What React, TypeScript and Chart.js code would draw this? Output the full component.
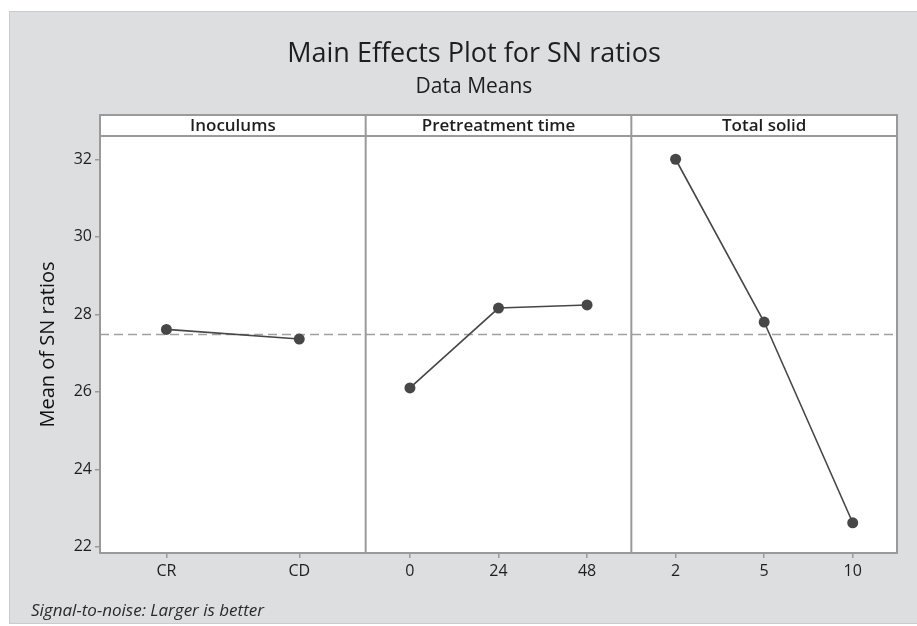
import { useEffect, useRef } from "react";
import { Chart, registerables } from "chart.js";

Chart.register(...registerables);

// ---- data ----
const PANEL_TITLES = ["Inoculums", "Pretreatment time", "Total solid"];
const INOCULUM_LEVELS = ["CR", "CD"];
const INOCULUM_SN = [27.61, 27.36];
const PRETREAT_LEVELS = ["0", "24", "48"];
const PRETREAT_SN = [26.1, 28.16, 28.24];
const SOLID_LEVELS = ["2", "5", "10"];
const SOLID_SN = [32.0, 27.8, 22.62];
const OVERALL_MEAN = [27.48];
const Y_TICKS = [22, 24, 26, 28, 30, 32];
const Y_RANGE = [21.84, 32.6];

const TITLE = "Main Effects Plot for SN ratios";
const SUBTITLE = "Data Means";
const Y_TITLE = "Mean of SN ratios";
const FOOTER = "Signal-to-noise: Larger is better";

// ---- style ----
const FONT = "'Open Sans', 'Noto Sans', sans-serif";
const TEXT = "#1e1e1e";
const FRAME = "#9a9a9a";
const MARK = "#474747";
const BG = "#dddee0";
const HEADER_H = 21;

const xScale = (labels: string[]) => ({
  type: "category" as const,
  labels,
  position: "bottom" as const,
  stack: "panels",
  stackWeight: 1,
  offset: true,
  grid: {
    display: true,
    drawOnChartArea: false,
    drawTicks: true,
    tickLength: 5,
    color: FRAME,
    lineWidth: 1.5,
  },
  border: { display: false },
  ticks: {
    color: TEXT,
    font: { family: FONT, size: 16 },
    padding: 4,
    maxRotation: 0,
    autoSkip: false,
  },
  afterFit: (s: any) => {
    s.height = 73;
  },
});

const decorPlugin = {
  id: "decor",
  beforeDraw(chart: any) {
    const { ctx, chartArea } = chart;
    ctx.save();
    ctx.fillStyle = BG;
    ctx.fillRect(9, 11, 917 - 9, 623 - 11);
    ctx.strokeStyle = "#cbcbcd";
    ctx.lineWidth = 1;
    ctx.strokeRect(9.5, 11.5, 917 - 9, 623 - 11);
    ctx.fillStyle = "#ffffff";
    ctx.fillRect(
      chartArea.left,
      chartArea.top - HEADER_H,
      chartArea.right - chartArea.left,
      chartArea.bottom - chartArea.top + HEADER_H
    );
    // titles
    ctx.fillStyle = TEXT;
    ctx.textAlign = "center";
    ctx.textBaseline = "middle";
    ctx.font = `normal 27px ${FONT}`;
    ctx.fillText(TITLE, 474, 54);
    ctx.font = `normal 21px ${FONT}`;
    ctx.fillText(SUBTITLE, 474, 87);
    ctx.restore();
  },
  beforeDatasetsDraw(chart: any) {
    const { ctx, chartArea, scales } = chart;
    const y = scales.y.getPixelForValue(OVERALL_MEAN[0]);
    ctx.save();
    ctx.strokeStyle = "#a0a0a0";
    ctx.lineWidth = 1.5;
    ctx.setLineDash([9, 5]);
    ctx.beginPath();
    ctx.moveTo(chartArea.left, y);
    ctx.lineTo(chartArea.right, y);
    ctx.stroke();
    ctx.restore();
  },
  afterDraw(chart: any) {
    const { ctx, chartArea, scales } = chart;
    const top = chartArea.top - HEADER_H;
    const axes = [scales.x0, scales.x1, scales.x2];
    ctx.save();
    ctx.strokeStyle = FRAME;
    ctx.lineWidth = 2;
    ctx.strokeRect(
      chartArea.left,
      top,
      chartArea.right - chartArea.left,
      chartArea.bottom - top
    );
    ctx.beginPath();
    ctx.moveTo(chartArea.left, chartArea.top);
    ctx.lineTo(chartArea.right, chartArea.top);
    for (let i = 1; i < axes.length; i++) {
      ctx.moveTo(axes[i].left, top);
      ctx.lineTo(axes[i].left, chartArea.bottom);
    }
    ctx.stroke();
    ctx.fillStyle = TEXT;
    ctx.font = `600 17px ${FONT}`;
    ctx.textAlign = "center";
    ctx.textBaseline = "middle";
    axes.forEach((a, i) => {
      ctx.fillText(PANEL_TITLES[i], (a.left + a.right) / 2, top + HEADER_H / 2 + 0.5);
    });
    ctx.font = `italic 17px ${FONT}`;
    ctx.textAlign = "left";
    ctx.fillStyle = "#2a2a2a";
    ctx.fillText(FOOTER, 31, 611);
    ctx.restore();
  },
};

const lineStyle = {
  borderColor: MARK,
  borderWidth: 1.6,
  pointRadius: 5.5,
  pointBackgroundColor: MARK,
  pointBorderWidth: 0,
  tension: 0,
  yAxisID: "y",
};

export default function App() {
  const ref = useRef<HTMLCanvasElement>(null);
  useEffect(() => {
    const chart = new Chart(ref.current as HTMLCanvasElement, {
      type: "line",
      data: {
        datasets: [
          { ...lineStyle, data: INOCULUM_SN, xAxisID: "x0" },
          { ...lineStyle, data: PRETREAT_SN, xAxisID: "x1" },
          { ...lineStyle, data: SOLID_SN, xAxisID: "x2" },
        ],
      },
      options: {
        responsive: false,
        animation: false,
        devicePixelRatio: 1,
        layout: { padding: { top: 136, right: 20, bottom: 0, left: 0 } },
        plugins: {
          legend: { display: false },
          tooltip: { enabled: false },
          title: { display: false },
          subtitle: { display: false },
        },
        scales: {
          x0: xScale(INOCULUM_LEVELS),
          x1: xScale(PRETREAT_LEVELS),
          x2: xScale(SOLID_LEVELS),
          y: {
            type: "linear",
            position: "left",
            min: Y_RANGE[0],
            max: Y_RANGE[1],
            afterBuildTicks: (s: any) => {
              s.ticks = Y_TICKS.map((v) => ({ value: v }));
            },
            afterFit: (s: any) => {
              s.width = 100;
            },
            grid: {
              drawOnChartArea: false,
              drawTicks: true,
              tickLength: 5,
              color: FRAME,
              lineWidth: 1.5,
            },
            border: { display: false },
            ticks: {
              color: TEXT,
              font: { family: FONT, size: 16 },
              padding: 3,
            },
            title: {
              display: true,
              text: Y_TITLE,
              color: "#111111",
              font: { family: FONT, size: 20 },
              padding: { top: 36, bottom: 0 },
            },
          },
        },
      } as any,
      plugins: [decorPlugin],
    });
    return () => chart.destroy();
  }, []);
  return (
    <div style={{ position: "fixed", left: 0, top: 0, width: 917, height: 626 }}>
      <canvas
        ref={ref}
        width={917}
        height={626}
        style={{ display: "block", width: 917, height: 626 }}
      />
    </div>
  );
}
